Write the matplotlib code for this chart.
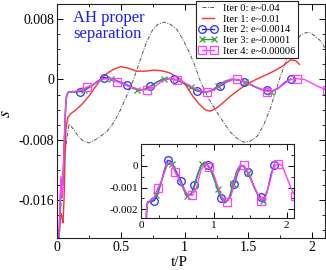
import numpy as np
import matplotlib
matplotlib.use("Agg")
import matplotlib.pyplot as plt
from matplotlib.ticker import MultipleLocator

plt.rcParams['font.family'] = 'serif'
plt.rcParams['font.serif'] = ['Liberation Serif', 'Times New Roman', 'DejaVu Serif']
plt.rcParams['mathtext.fontset'] = 'stix'
plt.rcParams['axes.unicode_minus'] = False

# all s-dot values are in units of 1e-3
# start of every run (steep rise at t/P ~ 0)
early_t = [0.0, 0.016, 0.024, 0.031, 0.039, 0.05, 0.06, 0.068, 0.075, 0.085]

# Iter 0
iter0_t = [0.0, 0.03, 0.06, 0.094, 0.13, 0.17, 0.21, 0.25, 0.3, 0.35, 0.39, 0.44, 0.49,
           0.55, 0.6, 0.65, 0.7, 0.75, 0.79, 0.84, 0.89, 0.94, 0.98, 1.02, 1.07,
           1.125, 1.19, 1.26, 1.31, 1.36, 1.41, 1.46, 1.51, 1.57, 1.62, 1.67, 1.71,
           1.75, 1.79, 1.83, 1.87, 1.91, 1.95, 1.98, 2.02, 2.06, 2.1]
iter0_s = [-24, -17, -10, -5.9, -6.6, -7.6, -8.2, -8.4, -8.0, -7.4, -6.9, -5.8, -4.3,
           -2.0, 0.0, 2.5, 4.9, 6.6, 7.3, 7.6, 7.3, 6.6, 5.5, 4.2, 2.3,
           -0.3, -2.6, -4.5, -5.8, -7.0, -7.8, -8.3, -8.2, -7.5, -6.0, -3.9, -1.8,
           0.4, 2.2, 3.9, 5.0, 5.9, 6.2, 6.2, 5.8, 5.2, 4.2]

# Iter 1
iter1_t = [0.0, 0.016, 0.025, 0.033, 0.041, 0.047, 0.055, 0.062, 0.07, 0.085, 0.11,
           0.15, 0.2, 0.25, 0.3, 0.35, 0.4, 0.45, 0.5, 0.56, 0.62, 0.69, 0.76, 0.82,
           0.88, 0.93, 0.97, 1.01, 1.06, 1.11, 1.16, 1.2, 1.25, 1.3, 1.36, 1.43,
           1.49, 1.57, 1.65, 1.71, 1.77, 1.83, 1.87, 1.9]
iter1_s = [-24, -21, -18.5, -17.8, -18.5, -19, -16, -11, -6.5, -5, -4.5,
           -4.0, -3.2, -2.2, -1.0, 0.2, 0.9, 1.4, 1.7, 1.5, 1.1, 1.1, 1.25, 1.15,
           0.9, 0.4, 0.0, -0.8, -2.1, -3.2, -4.0, -4.2, -3.8, -3.1, -2.2, -1.3,
           -0.6, 0.1, 0.7, 1.2, 1.8, 2.6, 2.5, 2.0]

# Iter 2 (uniform samples from t = 2*dt)
iter2_dt = 0.04575
iter2_early = [-24, -21, -17, -13.5, -15.5, -12, -7, -3.5, -2.2, -1.75]
iter2_s = [-1.65, -1.65, -1.6, -1.3, -0.8, -0.2, 0.25, 0.2, -0.1, -0.4, -0.7, -1.1,
           -1.4, -1.3, -0.9, -0.4, 0.0, 0.15, 0.05, -0.2, -0.6, -1.1, -1.5, -1.7,
           -1.6, -1.3, -0.85, -0.35, 0.0, -0.05, -0.3, -0.6, -1.0, -1.3, -1.45,
           -1.5, -1.1, -0.4, 0.05]

# Iter 3
iter3_dt = 0.0525
iter3_early = [-24, -21, -17, -13.2, -15.6, -12, -7, -3.5, -2.2, -1.75]
iter3_s = [-1.65, -1.6, -1.35, -0.9, -0.35, 0.1, 0.1, -0.25, -0.65, -1.05, -1.4,
           -1.35, -0.95, -0.3, 0.1, 0.1, -0.15, -0.55, -1.05, -1.5, -1.7, -1.5,
           -0.85, -0.25, 0.05, -0.05, -0.35, -0.75, -1.15, -1.5, -1.6, -1.2]

# Iter 4
iter4_dt = 0.05875
iter4_early = [-24, -21, -17, -12.8, -15.7, -12, -7, -3.5, -2.2, -1.75]
iter4_s = [-1.6, -1.5, -1.0, -0.6, 0.1, 0.15, -0.3, -0.65, -1.05, -1.35, -1.36,
           -1.0, -0.2, 0.1, -0.05, -0.4, -1.0, -1.45, -1.65, -1.4, -0.6, -0.05,
           0.02, -0.3, -0.75, -1.2, -1.6, -1.5, -0.8, -0.05, 0.1, 0.0, -0.5,
           -1.0, -1.4]

labels = ['Iter 0: e~0.04', 'Iter 1: e~0.01', 'Iter 2: e~0.0014',
          'Iter 3: e~0.0001', 'Iter 4: e~0.00006']


def series(dt, early, vals):
    t = np.concatenate([early_t, np.arange(2, 2 + len(vals)) * dt])
    s = np.concatenate([early, vals]) * 1e-3
    return t, s


t2, s2 = series(iter2_dt, iter2_early, iter2_s)
t3, s3 = series(iter3_dt, iter3_early, iter3_s)
t4, s4 = series(iter4_dt, iter4_early, iter4_s)
every = (len(early_t) + 2, 4)

blue = '#2a2aff'
green = '#30a030'
magenta = '#ff40ff'
red = '#ff3030'


def draw_close(ax):
    ax.plot(t2, s2, color=blue, lw=1.0, marker='o', ms=5.5, mfc='none', mew=0.9,
            markevery=every, label=labels[2])
    ax.plot(t3, s3, color=green, lw=1.0, marker='x', ms=4, mew=0.9,
            markevery=every, label=labels[3])
    ax.plot(t4, s4, color=magenta, lw=1.0, marker='s', ms=5.5, mfc='none', mew=0.9,
            markevery=every, label=labels[4])


def style(ax, size):
    ax.tick_params(which='both', direction='in', top=True, right=True, labelsize=size,
                   pad=2)
    ax.tick_params(which='major', length=4, width=0.7)
    ax.tick_params(which='minor', length=2.5, width=0.6)
    for sp in ax.spines.values():
        sp.set_linewidth(0.8)
        sp.set_color('#222222')


fig = plt.figure(figsize=(3.26, 2.70), dpi=100)
ax = fig.add_axes([57 / 326, 32 / 270, 268 / 326, 234 / 270])

ax.plot(np.array(iter0_t), np.array(iter0_s) * 1e-3, color='#555555', lw=0.7,
        ls=(0, (4, 1.5, 1, 1.5)), label=labels[0])
ax.plot(np.array(iter1_t), np.array(iter1_s) * 1e-3, color=red, lw=1.0, label=labels[1])
draw_close(ax)

ax.set_xlim(0, 2.1)
ax.set_ylim(-0.021, 0.01)
ax.set_xticks([0, 0.5, 1, 1.5, 2])
ax.set_xticklabels(['0', '0.5', '1', '1.5', '2'])
ax.xaxis.set_minor_locator(MultipleLocator(0.25))
ax.set_yticks([-0.016, -0.008, 0, 0.008])
ax.set_yticklabels(['-0.016', '-0.008', '0', '0.008'])
ax.yaxis.set_minor_locator(MultipleLocator(0.002))
style(ax, 10)

ax.set_xlabel('t/P', fontsize=11)
ax.xaxis.set_label_coords(0.455, -0.078)
ax.set_ylabel(r'$\dot{s}$', fontsize=13)
ax.yaxis.set_label_coords(-0.155, 0.53)

ax.text(0.06, 0.975, 'AH proper\nseparation', transform=ax.transAxes, color='#1a1aff',
        fontsize=12, va='top', ha='left', linespacing=1.0)

leg = ax.legend(loc='upper right', bbox_to_anchor=(0.899, 1.013), borderaxespad=0,
                fontsize=7.6, numpoints=2, handlelength=1.8, handletextpad=0.5,
                labelspacing=0.12, borderpad=0.25, fancybox=False, framealpha=1)
leg.get_frame().set_edgecolor('#222222')
leg.get_frame().set_linewidth(0.8)

# inset zoom on the converged iterations
axin = fig.add_axes([141 / 326, 52 / 270, 153 / 326, 74 / 270])
draw_close(axin)
axin.set_xlim(0, 2.1)
axin.set_ylim(-0.0024, 0.001)
axin.set_xticks([0, 1, 2])
axin.set_xticklabels(['0', '1', '2'])
axin.xaxis.set_minor_locator(MultipleLocator(0.25))
axin.set_yticks([-0.002, -0.001, 0])
axin.set_yticklabels(['-0.002', '-0.001', '0'])
axin.yaxis.set_minor_locator(MultipleLocator(0.0005))
style(axin, 8)

fig.savefig('out.png', dpi=100)
